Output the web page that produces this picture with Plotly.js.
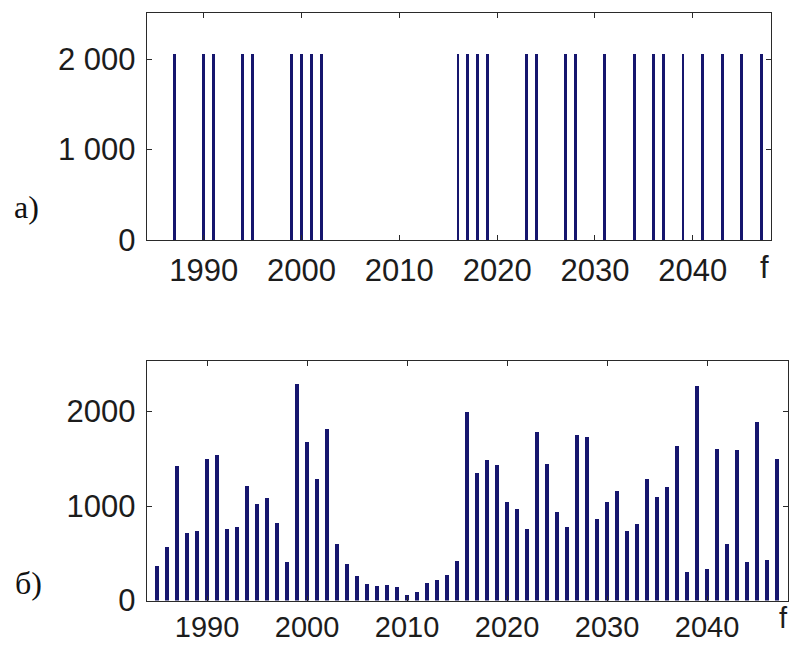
<!DOCTYPE html>
<html>
<head>
<meta charset="utf-8">
<script src="https://cdn.plot.ly/plotly-3.0.1.min.js"></script>
<style>
html,body{margin:0;padding:0;background:#fff;}
#chart{width:792px;height:645px;}
</style>
</head>
<body>
<div id="chart"></div>
<script>
// Panel a): years with a (binary) event, all of equal height
const topYears = [1987,1990,1991,1994,1995,1999,2000,2001,2002,2016,2017,2018,2019,2023,2024,2027,2028,2031,2034,2036,2037,2039,2041,2043,2045,2047];
const topValues = [2060,2060,2060,2060,2060,2060,2060,2060,2060,2060,2060,2060,2060,2060,2060,2060,2060,2060,2060,2060,2060,2060,2060,2060,2060,2060];

// Panel б): annual values
const bottomYears = [1985,1986,1987,1988,1989,1990,1991,1992,1993,1994,1995,1996,1997,1998,1999,2000,2001,2002,2003,2004,2005,2006,2007,2008,2009,2010,2011,2012,2013,2014,2015,2016,2017,2018,2019,2020,2021,2022,2023,2024,2025,2026,2027,2028,2029,2030,2031,2032,2033,2034,2035,2036,2037,2038,2039,2040,2041,2042,2043,2044,2045,2046,2047];
const bottomValues = [370,570,1420,710,740,1500,1540,760,780,1210,1020,1080,820,405,2290,1680,1290,1820,600,390,260,170,150,160,140,60,90,180,220,270,420,2000,1350,1490,1430,1040,970,760,1780,1450,940,780,1750,1730,860,1040,1160,740,810,1290,1100,1200,1640,300,2270,330,1600,600,1590,410,1890,430,1500];

// Tick labels
const xTickVals = [1990,2000,2010,2020,2030,2040];
const xTickText = ["1990","2000","2010","2020","2030","2040"];
const topYTickVals = [0,1000,2000];
const topYTickText = ["0","1 000","2 000"];
const bottomYTickVals = [0,1000,2000];
const bottomYTickText = ["0","1000","2000"];
const endLabel = "f";
const panelLabels = ["a)","б)"];

const barColor = "#16166e";
const axisColor = "#2a2a2a";
const tickFont = {family:"Liberation Sans, Arial, sans-serif", size:31, color:"#1c1c1c"};
const bottomTickFont = {family:"Liberation Sans, Arial, sans-serif", size:29, color:"#1c1c1c"};

const traces = [
  {type:"bar", x:topYears, y:topValues, width:0.3, marker:{color:barColor, line:{width:0}}, xaxis:"x", yaxis:"y", hoverinfo:"x+y"},
  {type:"bar", x:bottomYears, y:bottomValues, width:0.35, marker:{color:barColor, line:{width:0}}, xaxis:"x2", yaxis:"y2", hoverinfo:"x+y"}
];

function xAxis(domain, range, anchor, standoff, font){
  return {domain:domain, range:range, anchor:anchor, tickmode:"array", tickvals:xTickVals, ticktext:xTickText,
    ticks:"inside", ticklen:5, tickwidth:1, tickcolor:axisColor, showline:true, linecolor:axisColor, linewidth:1.3,
    mirror:"allticks", showgrid:false, zeroline:false, tickfont:font, ticklabelstandoff:standoff, fixedrange:true};
}
function yAxis(domain, range, anchor, vals, text){
  return {domain:domain, range:range, anchor:anchor, tickmode:"array", tickvals:vals, ticktext:text,
    ticks:"inside", ticklen:5, tickwidth:1, tickcolor:axisColor, showline:true, linecolor:axisColor, linewidth:1.3,
    mirror:"allticks", showgrid:false, zeroline:false, tickfont:tickFont, ticklabelstandoff:4, fixedrange:true};
}

const layout = {
  width:792, height:645,
  margin:{l:0,r:0,t:0,b:0},
  paper_bgcolor:"#fff", plot_bgcolor:"#fff",
  showlegend:false,
  bargap:0,
  xaxis: xAxis([147/792, 771/792], [1984.2, 2048.0], "y", 2, tickFont),
  yaxis: yAxis([1-240/645, 1-13/645], [0, 2510], "x", topYTickVals, topYTickText),
  xaxis2: xAxis([147/792, 788/792], [1984.0, 2048.1], "y2", 0, bottomTickFont),
  yaxis2: yAxis([1-600.5/645, 1-361/645], [0, 2535], "x2", bottomYTickVals, bottomYTickText),
  annotations:[
    {xref:"x", yref:"paper", x:2047.3, y:1-268/645, text:endLabel, showarrow:false, font:tickFont, xanchor:"center", yanchor:"middle"},
    {xref:"x2", yref:"paper", x:2047.6, y:1-618/645, text:endLabel, showarrow:false, font:bottomTickFont, xanchor:"center", yanchor:"middle"},
    {xref:"paper", yref:"paper", x:26/792, y:1-207/645, text:panelLabels[0], showarrow:false, font:{family:"Liberation Serif, Times New Roman, serif", size:32, color:"#111"}, xanchor:"center", yanchor:"middle"},
    {xref:"paper", yref:"paper", x:28/792, y:1-583/645, text:panelLabels[1], showarrow:false, font:{family:"Liberation Serif, Times New Roman, serif", size:32, color:"#111"}, xanchor:"center", yanchor:"middle"}
  ]
};

Plotly.newPlot("chart", traces, layout, {displayModeBar:false, staticPlot:true});
</script>
</body>
</html>
